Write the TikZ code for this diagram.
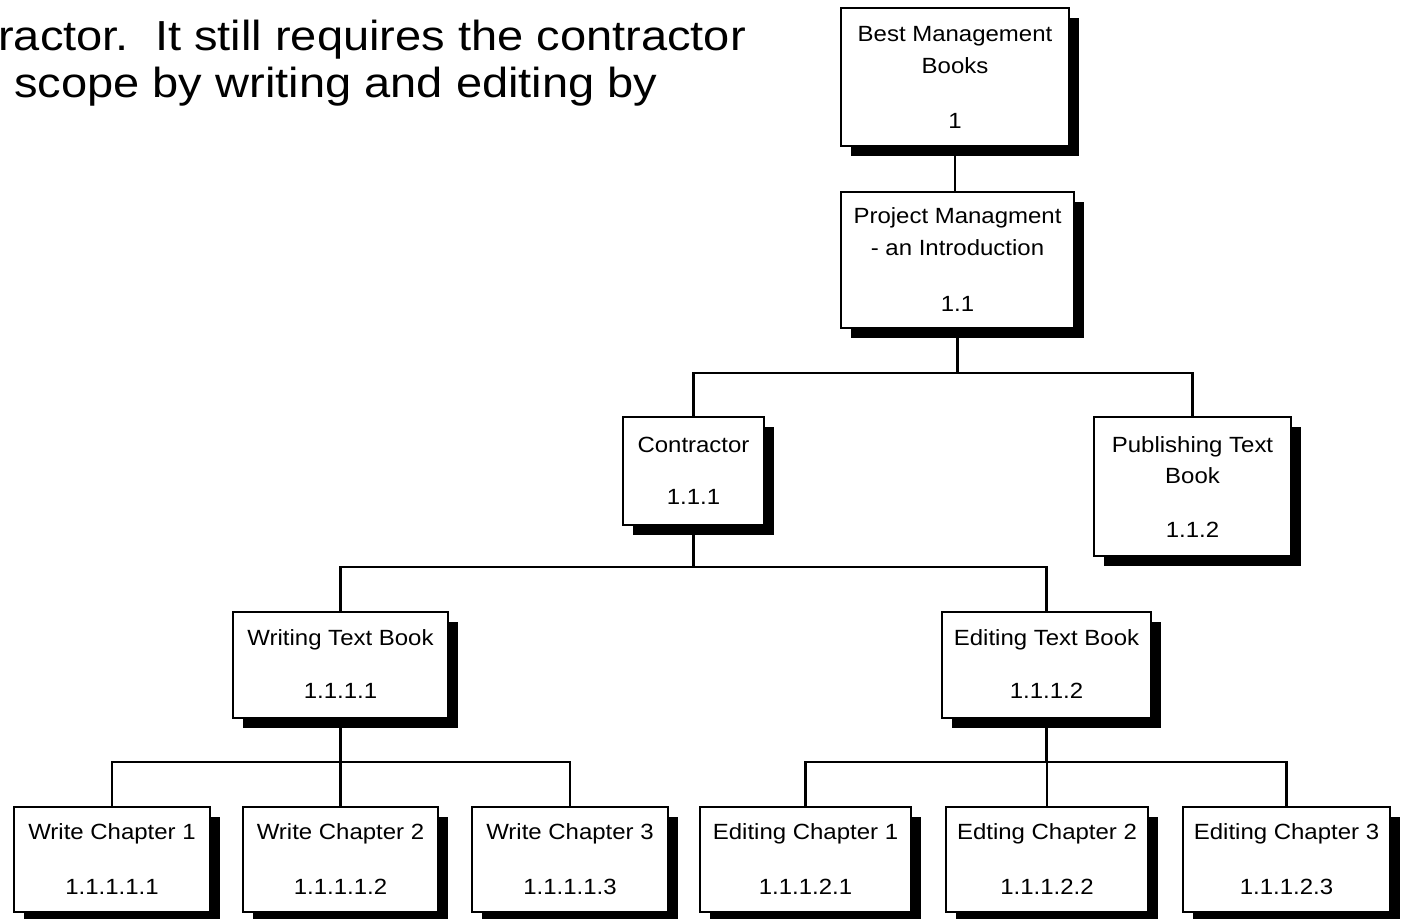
\documentclass[tikz,border=0pt]{standalone}
\usepackage{fontspec}
\setmainfont{Liberation Sans}
\newfontfamily\bigtxt[FakeStretch=1.12]{Liberation Sans}
\newfontfamily\boxtxt[FakeStretch=1.09]{Liberation Sans}
\usetikzlibrary{shadows}
\begin{document}
\begin{tikzpicture}[x=1pt,y=-1pt,
  wbsbox/.style={draw=black, line width=2pt, fill=white, rectangle, inner sep=0pt,
    anchor=north west,
    general shadow={fill=black, shadow xshift=10pt, shadow yshift=-10pt}},
  lbl/.style={font=\boxtxt\fontsize{22pt}{26pt}\selectfont, anchor=base, inner sep=0pt},
  head/.style={font=\bigtxt\fontsize{42pt}{50pt}\selectfont, anchor=base west, inner sep=0pt},
  conn/.style={draw=black, line width=2.2pt}]
\fill[white] (0,0) rectangle (1405,918);
\useasboundingbox (0,0) rectangle (1405,918);

% heading text
\node[head] (t1) at (-2,50) {ractor.\ \ It still requires the contractor};
\node[head] (t2) at (14,97) {scope by writing and editing by};

% boxes
\node[wbsbox, minimum width=228, minimum height=138] (b1) at (840,7) {};
\node[wbsbox, minimum width=233, minimum height=136] (b2) at (840,191) {};
\node[wbsbox, minimum width=141, minimum height=108] (c) at (622,416) {};
\node[wbsbox, minimum width=197, minimum height=139] (p) at (1093,416) {};
\node[wbsbox, minimum width=215, minimum height=106] (w) at (232,611) {};
\node[wbsbox, minimum width=209, minimum height=106] (e) at (941,611) {};
\node[wbsbox, minimum width=196, minimum height=105] (w1) at (13,806) {};
\node[wbsbox, minimum width=195, minimum height=105] (w2) at (242,806) {};
\node[wbsbox, minimum width=196, minimum height=105] (w3) at (471,806) {};
\node[wbsbox, minimum width=211, minimum height=105] (e1) at (699,806) {};
\node[wbsbox, minimum width=202, minimum height=105] (e2) at (945,806) {};
\node[wbsbox, minimum width=207, minimum height=105] (e3) at (1182,806) {};

% labels
\node[lbl] (b1a) at (b1.north |- 0,41) {Best Management};
\node[lbl] (b1b) at (b1.north |- 0,73) {Books};
\node[lbl] (b1n) at (b1.north |- 0,128) {1};
\node[lbl] (b2a) at (b2.north |- 0,223) {Project Managment};
\node[lbl] (b2b) at (b2.north |- 0,255) {- an Introduction};
\node[lbl] (b2n) at (b2.north |- 0,311) {1.1};
\node[lbl] (ca) at (c.north |- 0,452) {Contractor};
\node[lbl] (cn) at (c.north |- 0,504) {1.1.1};
\node[lbl] (pa) at (p.north |- 0,452) {Publishing Text};
\node[lbl] (pb) at (p.north |- 0,483) {Book};
\node[lbl] (pn) at (p.north |- 0,537) {1.1.2};
\node[lbl] (wa) at (w.north |- 0,645) {Writing Text Book};
\node[lbl] (wn) at (w.north |- 0,698) {1.1.1.1};
\node[lbl] (ea) at (e.north |- 0,645) {Editing Text Book};
\node[lbl] (en) at (e.north |- 0,698) {1.1.1.2};
\node[lbl] (w1a) at (w1.north |- 0,839) {Write Chapter 1};
\node[lbl] (w1n) at (w1.north |- 0,894) {1.1.1.1.1};
\node[lbl] (w2a) at (w2.north |- 0,839) {Write Chapter 2};
\node[lbl] (w2n) at (w2.north |- 0,894) {1.1.1.1.2};
\node[lbl] (w3a) at (w3.north |- 0,839) {Write Chapter 3};
\node[lbl] (w3n) at (w3.north |- 0,894) {1.1.1.1.3};
\node[lbl] (e1a) at (e1.north |- 0,839) {Editing Chapter 1};
\node[lbl] (e1n) at (e1.north |- 0,894) {1.1.1.2.1};
\node[lbl] (e2a) at (e2.north |- 0,839) {Edting Chapter 2};
\node[lbl] (e2n) at (e2.north |- 0,894) {1.1.1.2.2};
\node[lbl] (e3a) at (e3.north |- 0,839) {Editing Chapter 3};
\node[lbl] (e3n) at (e3.north |- 0,894) {1.1.1.2.3};

% bus lines
\coordinate (bus1) at (0,373);
\coordinate (bus2) at (0,567);
\coordinate (bus3) at (0,762);

% connectors
\draw[conn] (b1.south) -- (b1.south |- b2.north);
\draw[conn] (b2.south) -- (b2.south |- bus1);
\draw[conn] (c.north) |- (b2.south |- bus1) -| (p.north);
\draw[conn] (c.south) -- (c.south |- bus2);
\draw[conn] (w.north) |- (c.south |- bus2) -| (e.north);
\draw[conn] (w.south) -- (w.south |- bus3);
\draw[conn] (w1.north) |- (w.south |- bus3) -| (w3.north);
\draw[conn] (w2.north) -- (w2.north |- bus3);
\draw[conn] (e.south) -- (e.south |- bus3);
\draw[conn] (e1.north) |- (e.south |- bus3) -| (e3.north);
\draw[conn] (e2.north) -- (e2.north |- bus3);
\end{tikzpicture}
\end{document}
